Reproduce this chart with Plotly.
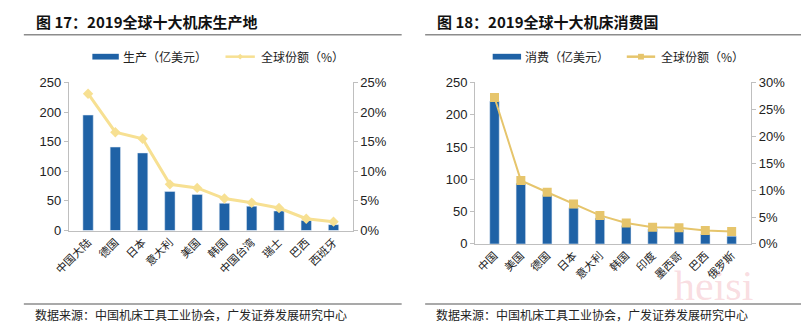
import plotly.graph_objects as go
from plotly.subplots import make_subplots

# 2019 top-10 machine tool producing regions
prod_regions = ["中国大陆", "德国", "日本", "意大利", "美国", "韩国", "中国台湾", "瑞士", "巴西", "西班牙"]
prod_value = [195, 141, 131, 66, 61, 46, 41, 33, 17, 10]          # 亿美元
prod_share = [23.1, 16.6, 15.5, 7.8, 7.2, 5.4, 4.7, 3.8, 2.0, 1.5]  # %

# 2019 top-10 machine tool consuming countries
cons_countries = ["中国", "美国", "德国", "日本", "意大利", "韩国", "印度", "墨西哥", "巴西", "俄罗斯"]
cons_value = [221, 94, 76, 56, 40, 28, 23, 22, 15, 12]             # 亿美元
cons_share = [27.2, 11.8, 9.6, 7.4, 5.3, 3.9, 3.1, 3.0, 2.5, 2.3]  # %

left_ticks = [0, 50, 100, 150, 200, 250]
left_pct_ticks = [0, 5, 10, 15, 20, 25]
right_ticks = [0, 50, 100, 150, 200, 250]
right_pct_ticks = [0, 5, 10, 15, 20, 25, 30]

W, H = 801, 336
BAR = "#1F62A6"
LINE_L = "#F7E092"
LINE_R = "#E6C56C"
AXIS = "#BFBFBF"
NUM_FONT = dict(family="Arial, Liberation Sans, sans-serif", size=13, color="#222")
CJK = "Noto Sans CJK SC"


def px(x):
    return x / W


def py(y):
    return 1 - y / H


fig = make_subplots(rows=1, cols=2, specs=[[{"secondary_y": True}, {"secondary_y": True}]])

fig.add_trace(go.Bar(x=prod_regions, y=prod_value, marker_color=BAR, width=0.38,
                     name="生产（亿美元）", showlegend=False), row=1, col=1, secondary_y=False)
fig.add_trace(go.Scatter(x=prod_regions, y=prod_share, mode="lines+markers",
                         line=dict(color=LINE_L, width=3),
                         marker=dict(symbol="diamond", size=8, color=LINE_L),
                         name="全球份额（%）", showlegend=False), row=1, col=1, secondary_y=True)
fig.add_trace(go.Bar(x=cons_countries, y=cons_value, marker_color=BAR, width=0.36,
                     name="消费（亿美元）", showlegend=False), row=1, col=2, secondary_y=False)
fig.add_trace(go.Scatter(x=cons_countries, y=cons_share, mode="lines+markers",
                         line=dict(color=LINE_R, width=2),
                         marker=dict(symbol="square", size=9, color=LINE_R),
                         name="全球份额（%）", showlegend=False), row=1, col=2, secondary_y=True)

common_y = dict(showgrid=False, zeroline=False, showline=True, linecolor=AXIS, linewidth=1,
                ticks="outside", ticklen=4, tickcolor=AXIS, tickfont=NUM_FONT)
common_x = dict(showgrid=False, zeroline=False, showline=True, linecolor=AXIS, linewidth=1,
                ticks="", tickangle=-45, tickfont=dict(family=CJK, size=11, color="#222"))

fig.update_layout(
    width=W, height=H, margin=dict(l=0, r=0, t=0, b=0),
    paper_bgcolor="white", plot_bgcolor="white", bargap=0.6,
    xaxis=dict(domain=[px(53), px(343)], **common_x),
    xaxis2=dict(domain=[px(468), px(750)], **common_x),
    yaxis=dict(domain=[py(234), py(79)], range=[0, 250], tickvals=left_ticks, **common_y),
    yaxis2=dict(domain=[py(234), py(79)], range=[0, 25], tickvals=left_pct_ticks,
                ticktext=[f"{v}%" for v in left_pct_ticks], **common_y),
    yaxis3=dict(domain=[py(248), py(79)], range=[0, 250], tickvals=right_ticks, **common_y),
    yaxis4=dict(domain=[py(248), py(79)], range=[0, 30], tickvals=right_pct_ticks,
                ticktext=[f"{v}%" for v in right_pct_ticks], **common_y),
)

shapes = []
annotations = []

# titles, rules and source lines
for x0, x1, title in [(7, 393, "图 17：2019全球十大机床生产地"), (417, 801, "图 18：2019全球十大机床消费国")]:
    annotations.append(dict(x=px(x0 + 10), y=py(15), xref="paper", yref="paper", xanchor="left",
                            yanchor="middle", showarrow=False, text=f"<b>{title}</b>",
                            font=dict(family=CJK, size=15, color="#111")))
    shapes.append(dict(type="line", xref="paper", yref="paper", x0=px(x0), x1=px(x1),
                       y0=py(29), y1=py(29), line=dict(color="#8C8C8C", width=1.5)))
    shapes.append(dict(type="line", xref="paper", yref="paper", x0=px(x0), x1=px(x1),
                       y0=py(311), y1=py(311), line=dict(color="#8C8C8C", width=1.5)))
    annotations.append(dict(x=px(x0 + 9), y=py(322), xref="paper", yref="paper", xanchor="left",
                            yanchor="middle", showarrow=False,
                            text="数据来源：中国机床工具工业协会，广发证券发展研究中心",
                            font=dict(family=CJK, size=12, color="#222")))

# legends
for (bx0, bx1, btxt, lx0, lx1, ltxt, lcol, sym) in [
    (77, 104, "生产（亿美元）", 213, 243, "全球份额（%）", LINE_L, "diamond"),
    (486, 515, "消费（亿美元）", 623, 652, "全球份额（%）", LINE_R, "square"),
]:
    shapes.append(dict(type="rect", xref="paper", yref="paper", x0=px(bx0), x1=px(bx1),
                       y0=py(55), y1=py(49), fillcolor=BAR, line=dict(width=0)))
    annotations.append(dict(x=px(bx1 + 2), y=py(52), xref="paper", yref="paper", xanchor="left",
                            yanchor="middle", showarrow=False, text=btxt,
                            font=dict(family=CJK, size=12, color="#222")))
    shapes.append(dict(type="line", xref="paper", yref="paper", x0=px(lx0), x1=px(lx1),
                       y0=py(52), y1=py(52), line=dict(color=lcol, width=2.5)))
    cx = (lx0 + lx1) / 2
    if sym == "diamond":
        shapes.append(dict(type="path", xref="paper", yref="paper",
                           path=f"M {px(cx-3)} {py(52)} L {px(cx)} {py(49)} L {px(cx+3)} {py(52)} L {px(cx)} {py(55)} Z",
                           fillcolor=lcol, line=dict(width=0)))
    else:
        shapes.append(dict(type="rect", xref="paper", yref="paper", x0=px(cx - 3), x1=px(cx + 3),
                           y0=py(55), y1=py(49), fillcolor=lcol, line=dict(width=0)))
    annotations.append(dict(x=px(lx1 + 4), y=py(52), xref="paper", yref="paper", xanchor="left",
                            yanchor="middle", showarrow=False, text=ltxt,
                            font=dict(family=CJK, size=12, color="#222")))

# faint watermark
annotations.append(dict(x=px(712), y=py(292), xref="paper", yref="paper", xanchor="center",
                        yanchor="middle", showarrow=False, text="heisi",
                        font=dict(family="Liberation Serif, serif", size=42, color="rgba(235,140,155,0.3)")))

fig.update_layout(shapes=shapes, annotations=annotations)
fig.write_html("out.html")
